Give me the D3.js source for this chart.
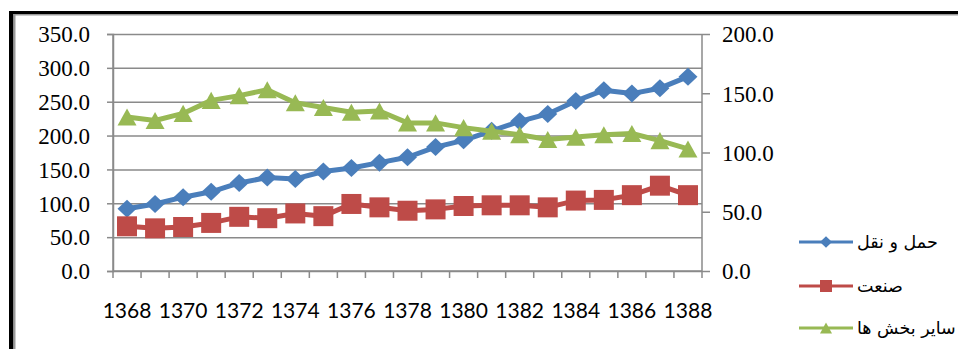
<!DOCTYPE html>
<html>
<head>
<meta charset="utf-8">
<script src="https://cdn.jsdelivr.net/npm/d3@7"></script>
<style>
  html, body { margin: 0; padding: 0; background: #fff; }
  svg { display: block; }
  .serif { font-family: "Liberation Serif", "Times New Roman", serif; }
  .cat { font-family: "Lato", "Liberation Sans", sans-serif; }
  .leg { font-family: "DejaVu Sans", sans-serif; }
</style>
</head>
<body>
<svg id="chart" width="958" height="349"></svg>
<script>
// Years on the category axis
const years = d3.range(1368, 1389).map(String);
// Transport (left axis)
const transport = [92, 99, 109, 117, 130, 138, 136, 147, 152, 160, 168, 183, 193, 207, 221, 232, 251, 267, 262, 270, 287];
// Industry (left axis)
const industry = [66, 63, 65, 71, 80, 78, 85, 81, 99, 94, 89, 91, 96, 97, 97, 94, 104, 105, 112, 126, 112];
// Other sectors (right axis)
const others = [130, 127, 133, 144, 148, 153, 142, 138, 134, 135, 125, 125, 121, 118, 115, 111, 113, 115, 116, 110, 103];
const leftTicks = [0, 50, 100, 150, 200, 250, 300, 350];
const rightTicks = [0, 50, 100, 150, 200];
const xLabels = years.filter((d, i) => i % 2 === 0);
const seriesNames = ["حمل و نقل", "صنعت", "سایر بخش ها"];
const colors = ["#4A7EBB", "#BE4B48", "#98B954"];

const svg = d3.select("#chart");

// Outer frame (top and left edges)
svg.append("rect").attr("x", 9).attr("y", 11).attr("width", 960).attr("height", 3).attr("fill", "#000");
svg.append("rect").attr("x", 9).attr("y", 11).attr("width", 4.5).attr("height", 345).attr("fill", "#000");
svg.append("rect").attr("x", 13.5).attr("y", 14).attr("width", 960).attr("height", 1.5).attr("fill", "#9a9a9a");
svg.append("rect").attr("x", 13.5).attr("y", 14).attr("width", 2).attr("height", 345).attr("fill", "#9a9a9a");

const plotL = 113, plotR = 702, plotT = 34, plotB = 271;
const x = d3.scaleBand().domain(years).range([plotL, plotR]);
const yL = d3.scaleLinear().domain([0, 350]).range([plotB, plotT]);
const yR = d3.scaleLinear().domain([0, 200]).range([plotB, plotT]);
const gridColor = "#8a8a8a";

// Horizontal gridlines with left ticks
const gridG = svg.append("g")
  .attr("transform", `translate(${plotL},0)`)
  .call(d3.axisLeft(yL).tickValues(leftTicks).tickSize(-(plotR - plotL)).tickFormat(""));
gridG.select(".domain").remove();
gridG.selectAll(".tick line").attr("stroke", gridColor).attr("stroke-width", 1.5);
svg.append("g")
  .attr("transform", `translate(${plotL},0)`)
  .call(d3.axisLeft(yL).tickValues(leftTicks).tickSize(6).tickFormat(""))
  .call(g => g.selectAll("line,path").attr("stroke", gridColor).attr("stroke-width", 1.5));

// Left axis line and labels
svg.append("line").attr("x1", plotL).attr("x2", plotL).attr("y1", plotT).attr("y2", plotB)
  .attr("stroke", gridColor).attr("stroke-width", 1.5);
svg.append("g").selectAll("text").data(leftTicks).join("text")
  .attr("class", "serif")
  .attr("x", 90).attr("y", d => yL(d)).attr("dy", "0.36em")
  .attr("text-anchor", "end")
  .attr("font-size", 23).attr("fill", "#000")
  .text(d => d3.format(".1f")(d));

// Right axis
const rAxis = svg.append("g")
  .attr("transform", `translate(${plotR},0)`)
  .call(d3.axisRight(yR).tickValues(rightTicks).tickSize(8).tickFormat(""));
rAxis.select(".domain").attr("d", `M0,${plotT}V${plotB}`);
rAxis.selectAll("line,path").attr("stroke", gridColor).attr("stroke-width", 1.5);
svg.append("g").selectAll("text").data(rightTicks).join("text")
  .attr("class", "serif")
  .attr("x", 722).attr("y", d => yR(d)).attr("dy", "0.36em")
  .attr("text-anchor", "start")
  .attr("font-size", 23).attr("fill", "#000")
  .text(d => d3.format(".1f")(d));

// Category axis with boundary ticks
const bounds = years.map(d => x(d)).concat([plotR]);
svg.append("line").attr("x1", plotL).attr("x2", plotR).attr("y1", plotB).attr("y2", plotB)
  .attr("stroke", gridColor).attr("stroke-width", 1.5);
svg.append("g").selectAll("line").data(bounds).join("line")
  .attr("x1", d => d).attr("x2", d => d).attr("y1", plotB).attr("y2", plotB + 7)
  .attr("stroke", gridColor).attr("stroke-width", 1.5);
svg.append("g").selectAll("text").data(xLabels).join("text")
  .attr("class", "cat")
  .attr("x", d => x(d) + x.bandwidth() / 2).attr("y", 318)
  .attr("text-anchor", "middle")
  .attr("font-size", 21).attr("fill", "#000")
  .text(d => d);

// Marker shapes
function markerPath(kind, s) {
  if (kind === 0) return `M0,${-s * 0.95}L${s},0L0,${s * 0.95}L${-s},0Z`;
  if (kind === 1) return `M${-s},${-s}H${s}V${s}H${-s}Z`;
  return `M0,${-s * 0.9}L${s},${s * 0.9}L${-s},${s * 0.9}Z`;
}

const seriesList = [
  { values: transport, y: yL, kind: 0 },
  { values: industry, y: yL, kind: 1 },
  { values: others, y: yR, kind: 2 }
];
const cx = d => x(d) + x.bandwidth() / 2;

seriesList.forEach((s, k) => {
  const pts = years.map((d, i) => [cx(d), s.y(s.values[i])]);
  svg.append("path")
    .attr("d", d3.line()(pts))
    .attr("fill", "none").attr("stroke", colors[k]).attr("stroke-width", 5)
    .attr("stroke-linejoin", "round");
  svg.append("g").selectAll("path").data(pts).join("path")
    .attr("transform", p => `translate(${p[0]},${p[1]})`)
    .attr("d", markerPath(s.kind, s.kind === 1 ? 10 : 9.5))
    .attr("fill", colors[k]);
});

// Legend
const legendY = [242, 286, 328];
const legend = svg.append("g");
seriesNames.forEach((name, k) => {
  legend.append("line").attr("x1", 799).attr("x2", 853).attr("y1", legendY[k]).attr("y2", legendY[k])
    .attr("stroke", colors[k]).attr("stroke-width", 3);
  legend.append("path").attr("transform", `translate(826,${legendY[k]})`)
    .attr("d", markerPath(k, 6)).attr("fill", colors[k]);
  legend.append("text").attr("class", "leg")
    .attr("x", 857).attr("y", legendY[k]).attr("dy", "0.35em")
    .attr("text-anchor", "start")
    .attr("font-size", 17.5).attr("fill", "#000")
    .text(name);
});
</script>
</body>
</html>
